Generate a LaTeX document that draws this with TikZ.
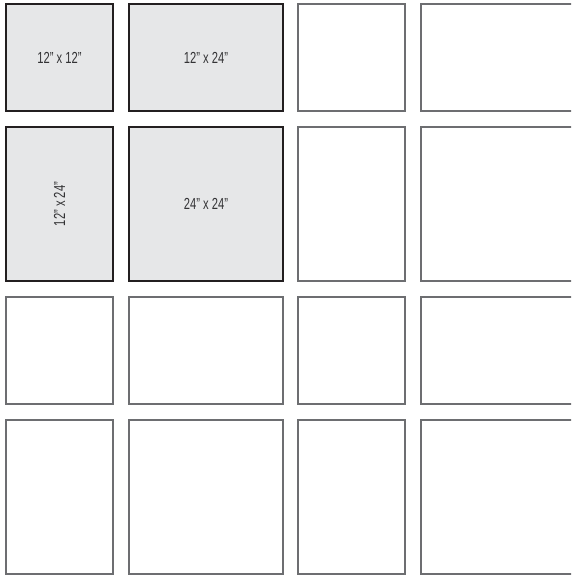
\documentclass[tikz,border=0pt]{standalone}
\usepackage{fontspec}
\newfontfamily\labelfont[FakeStretch=0.7]{Liberation Sans}
\definecolor{panelfill}{HTML}{E6E7E8}
\definecolor{panelline}{HTML}{231F20}
\definecolor{emptyline}{HTML}{6D6E71}
\definecolor{labeltext}{HTML}{333335}
\tikzset{
  cell/.style={rectangle, inner sep=0pt, outer sep=0pt},
  filled/.style={cell, draw=panelline, fill=panelfill, line width=1.8pt,
    font=\labelfont\fontsize{16}{16}\selectfont, text=labeltext},
  empty/.style={cell, draw=emptyline, fill=white, line width=1.2pt},
  sq/.style={minimum width=107pt, minimum height=107pt},
  wide/.style={minimum width=154pt, minimum height=107pt},
  tall/.style={minimum width=107pt, minimum height=154pt},
  big/.style={minimum width=154pt, minimum height=154pt},
  edgewide/.style={minimum width=179pt, minimum height=107pt},
  edgebig/.style={minimum width=179pt, minimum height=154pt},
}
\begin{document}
\begin{tikzpicture}[x=1pt,y=-1pt]
\useasboundingbox (0,0) rectangle (571,576);
\clip (0,0) rectangle (571,576);
% row 1
\node[filled,sq]   (a1) at (59.5,57.5) {12” x 12”};
\node[filled,wide] (b1) at (206,57.5) {12” x 24”};
\node[empty,sq]    (c1) at (351.5,57.5) {};
\node[empty,edgewide] (d1) at (510.5,57.5) {};
% row 2
\node[filled,tall] (a2) at (59.5,204) {\rotatebox{90}{12” x 24”}};
\node[filled,big]  (b2) at (206,204) {24” x 24”};
\node[empty,tall]  (c2) at (351.5,204) {};
\node[empty,edgebig] (d2) at (510.5,204) {};
% row 3
\node[empty,sq]    (a3) at (59.5,350.5) {};
\node[empty,wide]  (b3) at (206,350.5) {};
\node[empty,sq]    (c3) at (351.5,350.5) {};
\node[empty,edgewide] (d3) at (510.5,350.5) {};
% row 4
\node[empty,tall]  (a4) at (59.5,497) {};
\node[empty,big]   (b4) at (206,497) {};
\node[empty,tall]  (c4) at (351.5,497) {};
\node[empty,edgebig] (d4) at (510.5,497) {};
\end{tikzpicture}
\end{document}
